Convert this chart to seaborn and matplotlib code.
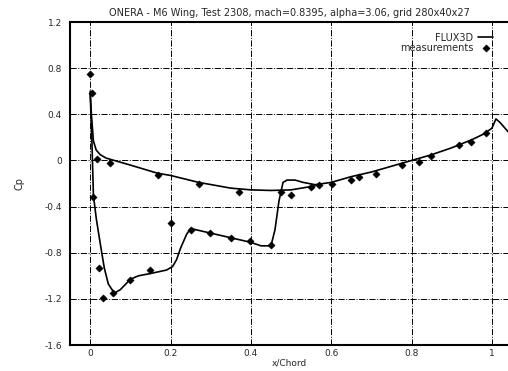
import numpy as np
import pandas as pd
import matplotlib
matplotlib.use('Agg')
import matplotlib.pyplot as plt
import seaborn as sns

# FLUX3D curve, suction side (lower Cp branch), leading edge -> past trailing edge
x_up = [0.0, 0.004, 0.008, 0.015, 0.025, 0.035, 0.045, 0.06, 0.075, 0.1, 0.12, 0.15,
        0.19, 0.205, 0.215, 0.225, 0.24, 0.25, 0.3, 0.35, 0.4, 0.425, 0.45, 0.46,
        0.47, 0.48, 0.49, 0.51, 0.53, 0.56, 0.6, 0.65, 0.7, 0.75, 0.8, 0.85, 0.9,
        0.95, 0.98, 1.0, 1.01, 1.02, 1.04]
cp_up = [0.58, 0.2, -0.3, -0.5, -0.72, -0.93, -1.07, -1.15, -1.12, -1.03, -1.0, -0.98,
         -0.95, -0.92, -0.86, -0.76, -0.64, -0.59, -0.63, -0.67, -0.71, -0.74, -0.74, -0.6,
         -0.35, -0.19, -0.17, -0.17, -0.19, -0.21, -0.19, -0.14, -0.1, -0.05, 0.0, 0.05, 0.11,
         0.18, 0.23, 0.28, 0.36, 0.33, 0.25]

# FLUX3D curve, pressure side
x_lo = [0.0, 0.003, 0.008, 0.015, 0.025, 0.04, 0.06, 0.1, 0.167, 0.2, 0.27, 0.35,
        0.4, 0.45, 0.5, 0.56]
cp_lo = [0.6, 0.4, 0.17, 0.09, 0.05, 0.02, 0.0, -0.04, -0.11, -0.13, -0.19, -0.24,
         -0.255, -0.26, -0.255, -0.22]

# measurements
x_meas = [0.0, 0.004, 0.007, 0.018, 0.05, 0.021, 0.033, 0.058, 0.1, 0.15, 0.2, 0.168,
          0.27, 0.37, 0.251, 0.299, 0.35, 0.399, 0.449, 0.474, 0.499, 0.549, 0.57,
          0.603, 0.648, 0.669, 0.711, 0.777, 0.819, 0.848, 0.918, 0.948, 0.985]
cp_meas = [0.75, 0.585, -0.32, 0.015, -0.02, -0.93, -1.19, -1.15, -1.04, -0.95, -0.545,
           -0.125, -0.2, -0.275, -0.6, -0.63, -0.67, -0.70, -0.73, -0.275, -0.30, -0.23,
           -0.21, -0.2, -0.17, -0.145, -0.116, -0.043, -0.015, 0.035, 0.13, 0.16, 0.24]

sns.set_style('white')
plt.rcParams['font.family'] = ['DejaVu Sans']

fig = plt.figure(figsize=(5.08, 3.71), dpi=100)
ax = fig.add_axes([0.138, 0.070, 0.862, 0.8706])

up = pd.DataFrame({'x': x_up, 'cp': cp_up})
lo = pd.DataFrame({'x': x_lo, 'cp': cp_lo})
meas = pd.DataFrame({'x': x_meas, 'cp': cp_meas})

sns.lineplot(data=up, x='x', y='cp', sort=False, color='black', lw=1.2,
             label='FLUX3D', ax=ax)
sns.lineplot(data=lo, x='x', y='cp', sort=False, color='black', lw=1.2, ax=ax)
sns.scatterplot(data=meas, x='x', y='cp', marker='D', color='black', s=14,
                edgecolor='black', label='measurements', ax=ax, zorder=3)

ax.set_xlim(-0.05, 1.04)
ax.set_ylim(-1.6, 1.2)
ax.set_xticks([0, 0.2, 0.4, 0.6, 0.8, 1])
ax.set_xticklabels(['0', '0.2', '0.4', '0.6', '0.8', '1'])
ax.set_yticks([-1.6, -1.2, -0.8, -0.4, 0, 0.4, 0.8, 1.2])
ax.set_yticklabels(['-1.6', '-1.2', '-0.8', '-0.4', '0', '0.4', '0.8', '1.2'])
ax.tick_params(labelsize=6.5, direction='in', length=3)
ax.tick_params(axis='x', pad=3)
ax.tick_params(axis='y', pad=6)
ax.grid(True, linestyle='-.', color='black', lw=0.7)
for s in ax.spines.values():
    s.set_color('black')
    s.set_linewidth(1.5)
ax.spines['right'].set_visible(False)

ax.set_xlabel('x/Chord', fontsize=6.5, labelpad=0)
ax.set_ylabel('Cp', fontsize=7, labelpad=14)
ax.set_title('ONERA - M6 Wing, Test 2308, mach=0.8395, alpha=3.06, grid 280x40x27',
             fontsize=7, pad=4)

leg = ax.legend(loc='upper right', fontsize=7, frameon=False, markerfirst=False,
                handlelength=1.5, handletextpad=0.5, labelspacing=0.0,
                borderaxespad=0.7, bbox_to_anchor=(0.99, 1.0))

fig.savefig('out.png', dpi=100)
